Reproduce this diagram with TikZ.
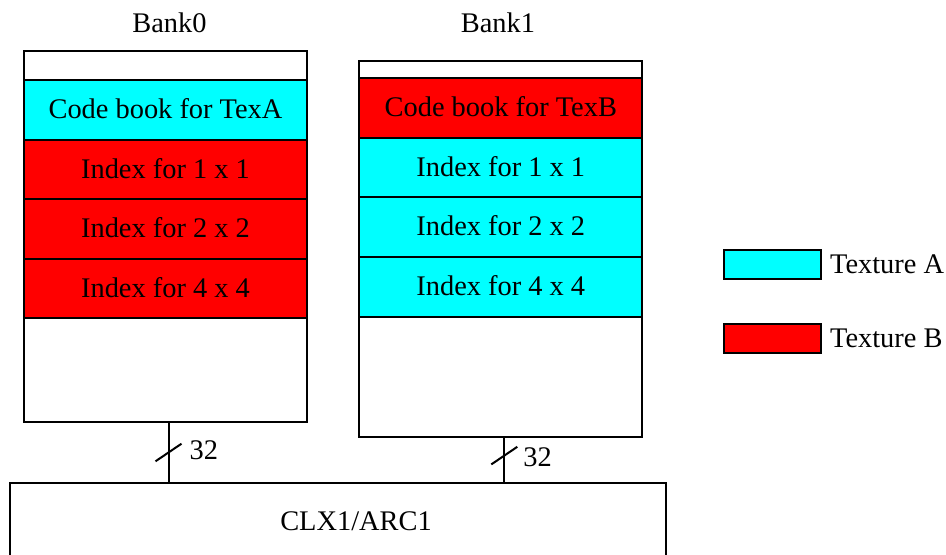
\documentclass[tikz,border=0pt]{standalone}
\usepackage{fontspec}
\setmainfont{Liberation Serif}
\usetikzlibrary{positioning, calc}
\definecolor{texA}{HTML}{00FFFF}
\definecolor{texB}{HTML}{FF0000}

\begin{document}
\begin{tikzpicture}[x=0.5pt, y=-0.5pt,
    every node/.style={font=\fontsize{14.2}{17}\selectfont},
    bank/.style={draw, line width=1pt, minimum width=141.5pt, inner sep=0pt, outer sep=0pt, anchor=north west},
    cell/.style={bank, minimum height=29.75pt, text depth=1.5pt},
    bus/.style={line width=1pt},
    key/.style={draw, line width=1pt, minimum width=48.5pt, minimum height=14.2pt, inner sep=0pt},
  ]
  \useasboundingbox (0,0) rectangle (946,555);
  % banks
  \node[bank, minimum height=185.8pt] (b0) at (24,50.7) {};
  \node[bank, minimum height=188.2pt] (b1) at (359.3,60.7) {};
  \node[anchor=base] (b0name) at (169.5,33) {Bank0};
  \node[anchor=base] (b1name) at (498,33) {Bank1};
  % cells
  \foreach \i/\t/\c in {0/Code book for TexA/texA, 1/Index for 1 x 1/texB, 2/Index for 2 x 2/texB, 3/Index for 4 x 4/texB} {
    \node[cell, fill=\c] (a\i) at (24, {80.3+\i*59.5}) {\t};
  }
  \foreach \i/\t/\c in {0/Code book for TexB/texB, 1/Index for 1 x 1/texA, 2/Index for 2 x 2/texA, 3/Index for 4 x 4/texA} {
    \node[cell, fill=\c] (c\i) at (359.3, {78.3+\i*59.6}) {\t};
  }
  % CLX block
  \node[draw, line width=1pt, minimum width=328pt, minimum height=38pt, inner sep=0pt] (clx) at (338,521) {};
  \node[anchor=base] (clxname) at (356,530.7) {CLX1/ARC1};
  % buses with width marks
  \coordinate (tap0) at ($(b0.south)+(3,0)$);
  \coordinate (tap1) at ($(b1.south)+(3.5,0)$);
  \draw[bus] (tap0) -- (tap0 |- clx.north);
  \draw[bus] (tap1) -- (tap1 |- clx.north);
  \draw[bus] ($(tap0)+(-13,39)$) -- ++(26,-17.6);
  \draw[bus] ($(tap1)+(-13,27.3)$) -- ++(26,-17.6);
  \node[anchor=base west, inner sep=0pt] (w0) at ($(tap0)+(20.7,36.7)$) {32};
  \node[anchor=base west, inner sep=0pt] (w1) at ($(tap1)+(18.7,29)$) {32};
  % legend
  \node[key, fill=texA] (keyA) at (772.2,264.5) {};
  \node[key, fill=texB] (keyB) at (772.2,338.5) {};
  \node[right=4pt of keyA, inner sep=0pt] (keyAname) {Texture A};
  \node[right=4pt of keyB, inner sep=0pt] (keyBname) {Texture B};
\end{tikzpicture}
\end{document}
